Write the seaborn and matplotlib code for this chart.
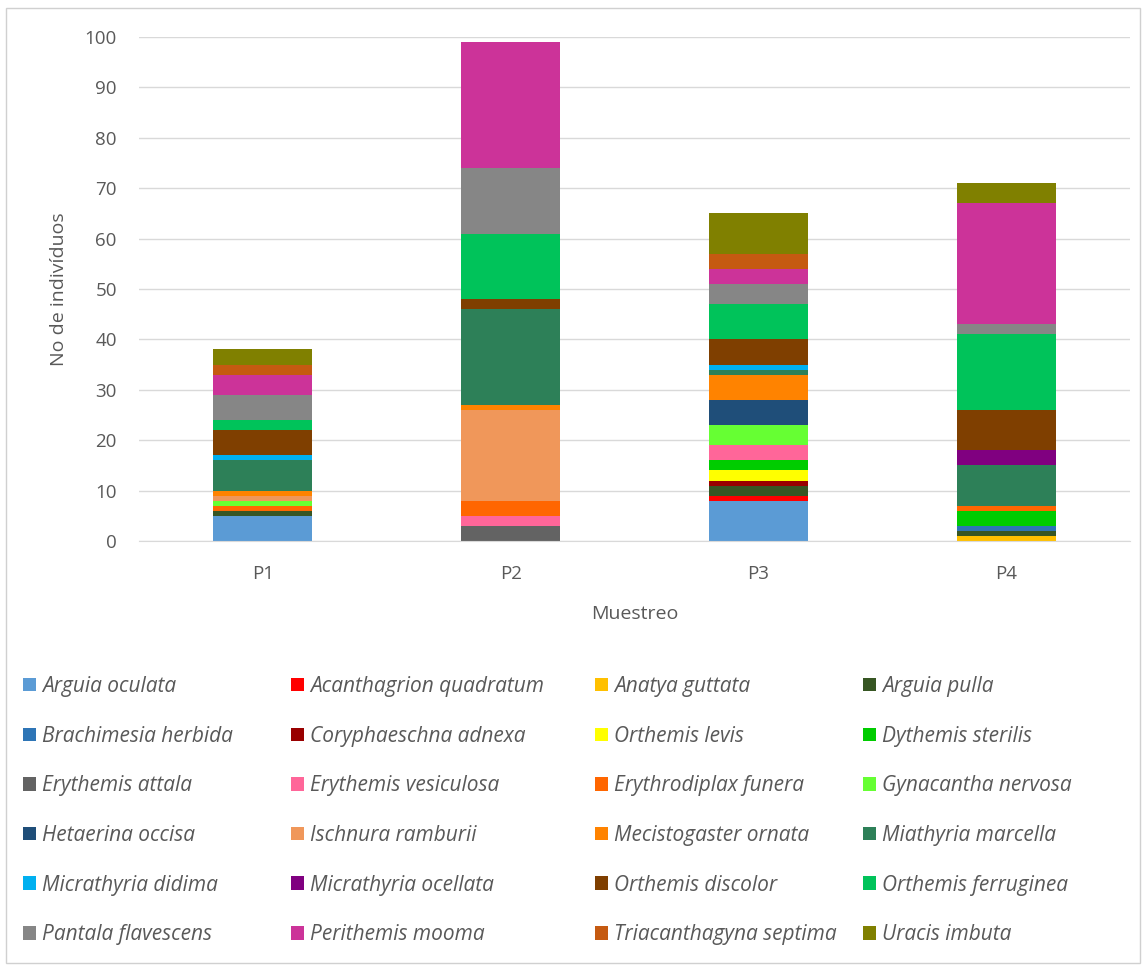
import matplotlib
matplotlib.use("Agg")
import matplotlib.pyplot as plt
from matplotlib.patches import Patch, Rectangle
import numpy as np
import pandas as pd
import seaborn as sns

# sampling points
SITES = ["P1", "P2", "P3", "P4"]

# species, in legend / stacking order (bottom to top)
SPECIES = [
    "Arguia oculata", "Acanthagrion quadratum", "Anatya guttata", "Arguia pulla",
    "Brachimesia herbida", "Coryphaeschna adnexa", "Orthemis levis", "Dythemis sterilis",
    "Erythemis attala", "Erythemis vesiculosa", "Erythrodiplax funera", "Gynacantha nervosa",
    "Hetaerina occisa", "Ischnura ramburii", "Mecistogaster ornata", "Miathyria marcella",
    "Micrathyria didima", "Micrathyria ocellata", "Orthemis discolor", "Orthemis ferruginea",
    "Pantala flavescens", "Perithemis mooma", "Triacanthagyna septima", "Uracis imbuta",
]

COLORS = [
    "#5B9BD5", "#FF0000", "#FFC000", "#375623",
    "#2E75B6", "#990000", "#FFFF00", "#00CC00",
    "#636363", "#FF6699", "#FF6600", "#66FF33",
    "#1F4E79", "#F0975A", "#FF8300", "#2D8058",
    "#00B0F0", "#800080", "#7F3F00", "#00C35A",
    "#868686", "#CC3399", "#C55A11", "#808000",
]

# counts per species for P1..P4
COUNTS = {
    "Arguia oculata":         [5, 0, 8, 0],
    "Acanthagrion quadratum": [0, 0, 1, 0],
    "Anatya guttata":         [0, 0, 0, 1],
    "Arguia pulla":           [1, 0, 2, 1],
    "Brachimesia herbida":    [0, 0, 0, 1],
    "Coryphaeschna adnexa":   [0, 0, 1, 0],
    "Orthemis levis":         [0, 0, 2, 0],
    "Dythemis sterilis":      [0, 0, 2, 3],
    "Erythemis attala":       [0, 3, 0, 0],
    "Erythemis vesiculosa":   [0, 2, 3, 0],
    "Erythrodiplax funera":   [1, 3, 0, 1],
    "Gynacantha nervosa":     [1, 0, 4, 0],
    "Hetaerina occisa":       [0, 0, 5, 0],
    "Ischnura ramburii":      [1, 18, 0, 0],
    "Mecistogaster ornata":   [1, 1, 5, 0],
    "Miathyria marcella":     [6, 19, 1, 8],
    "Micrathyria didima":     [1, 0, 1, 0],
    "Micrathyria ocellata":   [0, 0, 0, 3],
    "Orthemis discolor":      [5, 2, 5, 8],
    "Orthemis ferruginea":    [2, 13, 7, 15],
    "Pantala flavescens":     [5, 13, 4, 2],
    "Perithemis mooma":       [4, 25, 3, 24],
    "Triacanthagyna septima": [2, 0, 3, 0],
    "Uracis imbuta":          [3, 0, 8, 4],
}

TEXT = "#595959"
FONT = "Open Sans"

W, H = 1146, 969
fig = plt.figure(figsize=(W / 100, H / 100), dpi=100)
ax = fig.add_axes([139 / W, 1 - 541 / H, (1130 - 139) / W, (541 - 37) / H])

bottom = np.zeros(len(SITES))
for name, color in zip(SPECIES, COLORS):
    vals = np.array(COUNTS[name], dtype=float)
    df = pd.DataFrame({"site": SITES, "n": vals})
    sns.barplot(data=df, x="site", y="n", order=SITES, color=color,
                width=0.4, bottom=bottom, linewidth=0, ax=ax, saturation=1)
    bottom += vals

ax.set_xlim(-0.5, 3.5)
ax.set_ylim(0, 100)
ax.set_yticks(range(0, 101, 10))
ax.grid(axis="y", color="#D9D9D9", linewidth=1)
ax.set_axisbelow(True)
for s in ["left", "right", "top"]:
    ax.spines[s].set_visible(False)
ax.spines["bottom"].set_color("#D9D9D9")
ax.tick_params(length=0, labelsize=13.5, labelcolor=TEXT)
ax.tick_params(axis="x", pad=17)
ax.tick_params(axis="y", pad=16)
for lab in ax.get_xticklabels() + ax.get_yticklabels():
    lab.set_family(FONT)
ax.set_xlabel("Muestreo", fontsize=14, color=TEXT, family=FONT, labelpad=16)
ax.set_ylabel("No de indivíduos", fontsize=14, color=TEXT, family=FONT, labelpad=12)

# legend: 4 columns, Excel row-major order
col_x = [23, 291, 595, 863]
for j, x in enumerate(col_x):
    handles = [Patch(facecolor=COLORS[i], edgecolor="none") for i in range(j, 24, 4)]
    labels = [SPECIES[i] for i in range(j, 24, 4)]
    fig.legend(handles, labels, loc="upper left", bbox_to_anchor=(x / W, 1 - 676 / H),
               frameon=False, borderpad=0, borderaxespad=0, handlelength=0.63,
               handleheight=0.63, handletextpad=0.28, labelspacing=1.375,
               prop={"family": FONT, "style": "italic", "size": 15}, labelcolor=TEXT)

fig.add_artist(Rectangle((6 / W, 1 - 963 / H), (1140 - 6) / W, (963 - 8) / H,
                         transform=fig.transFigure, fill=False, edgecolor="#D0D0D0", linewidth=1))

fig.savefig("out.png", dpi=100)
